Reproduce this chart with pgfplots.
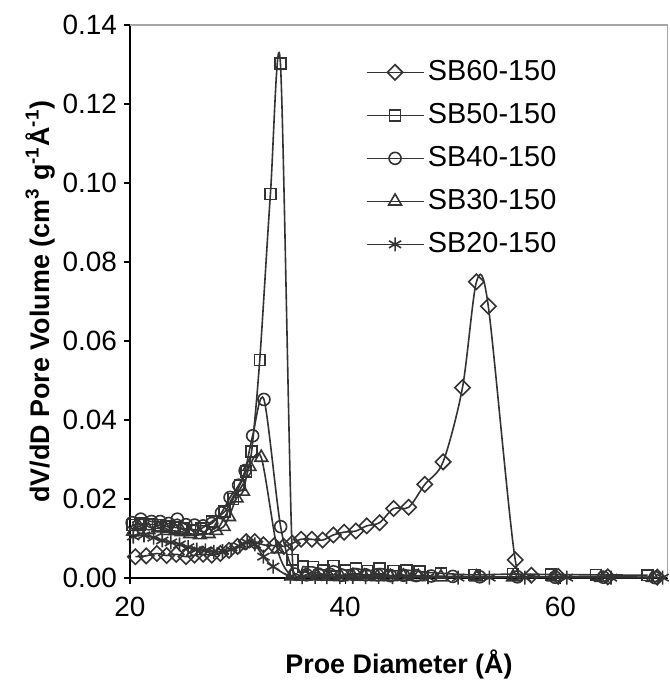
\documentclass[border=0pt]{standalone}
\usepackage{fontspec}
\setmainfont{Liberation Sans}
\usepackage{pgfplots}
\pgfplotsset{compat=1.18}
\definecolor{ln}{HTML}{333333}

\pgfplotstableread{
x y
20.5 0.0054
21.5 0.0056
22.5 0.0062
23.4 0.0057
24.3 0.0060
25.2 0.0054
26.0 0.0058
26.8 0.0060
27.6 0.0058
28.4 0.0062
29.2 0.0070
30.0 0.0080
30.8 0.0092
31.6 0.0092
32.4 0.0084
33.4 0.0082
34.3 0.0080
35.1 0.0088
35.9 0.0098
36.9 0.0098
37.9 0.0096
38.9 0.0109
39.9 0.0116
41.0 0.0119
42.0 0.0132
43.2 0.0140
44.5 0.0176
45.9 0.0179
47.4 0.0237
49.1 0.0294
50.9 0.0482
52.2 0.0750
53.3 0.0688
55.8 0.0046
57.3 0.0007
59.8 0.0004
64.4 0.0003
69.0 0.0002
}\sbsixty

\pgfplotstableread{
x y
20.2 0.0134
21.0 0.0138
21.8 0.0136
22.6 0.0134
23.4 0.0130
24.2 0.0128
25.0 0.0125
25.8 0.0122
26.6 0.0125
27.6 0.0143
28.8 0.0168
29.6 0.0200
30.2 0.0235
30.8 0.0270
31.3 0.0320
32.06 0.0552
33.05 0.0972
33.98 0.1303
35.1 0.0046
36.1 0.0029
37.0 0.0028
38.0 0.0020
38.9 0.0031
40.0 0.0020
41.0 0.0024
42.1 0.0018
43.2 0.0024
44.5 0.0018
45.7 0.0020
46.9 0.0016
48.9 0.0012
52.0 0.0008
55.6 0.0010
59.1 0.0009
63.3 0.0008
68.1 0.0007
}\sbfifty

\pgfplotstableread{
x y
20.2 0.0140
21.0 0.0149
22.0 0.0143
22.8 0.0143
23.6 0.0138
24.4 0.0149
25.2 0.0135
26.0 0.0134
26.8 0.0132
27.6 0.0138
28.5 0.0165
29.3 0.0204
30.1 0.0235
30.7 0.0272
31.4 0.0360
32.45 0.0452
34.0 0.0130
35.3 0.0010
36.4 0.0008
37.5 0.0010
38.6 0.0009
39.7 0.0007
40.8 0.0009
41.9 0.0008
43.0 0.0008
44.2 0.0006
45.4 0.0007
46.6 0.0006
48.0 0.0005
50.0 0.0004
52.5 0.0003
56.0 0.0003
59.5 0.0002
64.0 0.0002
68.8 0.0001
}\sbforty

\pgfplotstableread{
x y
20.3 0.0118
20.8 0.0130
21.7 0.0122
22.6 0.0126
23.4 0.0120
24.2 0.0119
24.8 0.0117
25.6 0.0112
26.5 0.0109
27.3 0.0112
28.0 0.0120
28.7 0.0130
29.2 0.0155
29.9 0.0202
30.5 0.0219
31.1 0.0282
32.2 0.0305
33.7 0.0073
35.0 0.0005
36.3 0.0004
37.4 0.0005
38.5 0.0004
39.6 0.0003
40.7 0.0005
41.8 0.0004
43.0 0.0003
44.2 0.0003
45.4 0.0004
46.8 0.0003
48.9 0.0002
52.2 0.0002
55.6 0.0002
59.4 0.0002
63.8 0.0001
68.6 0.0001
}\sbthirty

\pgfplotstableread{
x y
20.3 0.0105
21.3 0.0108
22.2 0.0102
23.0 0.0095
23.8 0.0090
24.6 0.0085
25.4 0.0078
26.2 0.0072
27.0 0.0070
27.8 0.0066
28.6 0.0068
29.4 0.0072
30.2 0.0080
30.9 0.0090
31.6 0.0085
32.4 0.0054
33.3 0.0029
34.9 0.0003
36.0 0.0002
37.2 0.0003
38.3 0.0002
39.5 0.0002
40.7 0.0003
41.9 0.0002
43.1 0.0003
44.4 0.0002
45.7 0.0003
47.7 0.0002
50.5 0.0001
53.4 0.0001
56.7 0.0001
60.6 0.0001
64.7 0.0001
69.5 0.0001
}\sbtwenty

\begin{document}
\begin{tikzpicture}
\begin{axis}[
  name=ax,
  scale only axis, width=269bp, height=276.5bp,
  xmin=20, xmax=70, ymin=0, ymax=0.14,
  xtick={20,40,60},
  ytick={0,0.02,0.04,0.06,0.08,0.10,0.12,0.14},
  scaled y ticks=false,
  yticklabel style={/pgf/number format/.cd, fixed, fixed zerofill, precision=2},
  xticklabel style={yshift=-3bp},
  /pgf/number format/assume math mode=true,
  tick label style={font=\fontsize{14}{16}\selectfont},
  tick align=outside, tick pos=left, major tick length=3bp,
  tick style={black, line width=0.6bp},
  axis x line*=bottom, axis y line*=left,
  axis line style={-, black, line width=0.7bp},
  xlabel={Proe Diameter (Å)},
  ylabel={dV/dD Pore Volume (cm\textsuperscript{3} g\textsuperscript{-1}Å\textsuperscript{-1})},
  label style={font=\fontsize{13.5}{15}\selectfont\bfseries},
  xlabel style={at={(axis description cs:0.5,-0.157)}, anchor=center},
  ylabel style={at={(axis description cs:-0.167,0.5)}, anchor=center, rotate=0},
  clip=true,
  every axis plot/.append style={ln, line width=0.8bp, smooth, tension=0.5},
  legend cell align=left,
  legend style={at={(axis description cs:0.4375,0.954)}, anchor=north west,
    draw=none, fill=none, inner sep=0pt, row sep=0pt, column sep=0pt,
    font=\fontsize{14.5}{16}\selectfont,
    nodes={minimum height=21.5bp, inner ysep=0pt, inner xsep=1.75bp}},
  legend image code/.code={\draw[mark repeat=2,mark phase=2,#1] plot coordinates {(0bp,0bp) (14.25bp,0bp) (28.5bp,0bp)};},
]
\addplot[mark=square, mark size=2.7bp, mark options={solid, fill=white, rotate=45, line width=0.8bp}] table {\sbsixty};
\addlegendentry{SB60-150}
\addplot[mark=square, mark size=2.7bp, mark options={solid, fill=white, line width=0.8bp}] table {\sbfifty};
\addlegendentry{SB50-150}
\addplot[mark=o, mark size=3bp, mark options={solid, fill=white, line width=0.8bp}] table {\sbforty};
\addlegendentry{SB40-150}
\addplot[mark=triangle, mark size=3.7bp, mark options={solid, fill=white, line width=0.8bp}] table {\sbthirty};
\addlegendentry{SB30-150}
\addplot[mark=asterisk, mark size=3.5bp, mark options={solid, line width=0.8bp}] table {\sbtwenty};
\addlegendentry{SB20-150}
\draw[gray!70, line width=0.7bp] (rel axis cs:0,1) -- (rel axis cs:1,1) -- (rel axis cs:1,0);
\end{axis}
\pgfresetboundingbox
\path ([xshift=-65bp,yshift=-51.5bp]ax.south west) rectangle ([xshift=1bp,yshift=12.5bp]ax.north east);
\end{tikzpicture}
\end{document}
